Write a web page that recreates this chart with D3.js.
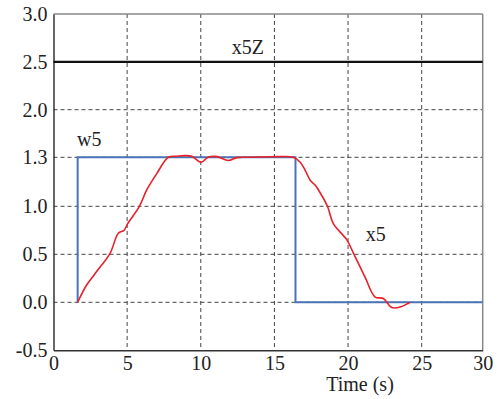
<!DOCTYPE html>
<html><head><meta charset="utf-8">
<script src="https://cdn.jsdelivr.net/npm/d3@7"></script>
</head><body style="margin:0"><svg id="c" width="497" height="399"></svg>
<script>
const xTicks = [0,5,10,15,20,25,30];
const yTicks = [-0.5,0.0,0.5,1.0,1.3,2.0,2.5,3.0];
const yTickLabels = ["-0.5","0.0","0.5","1.0","1.3","2.0","2.5","3.0"];
const x5Z = 2.5;
const w5T = [1.64, 1.64, 16.43, 16.43, 30];
const w5V = [0, 1.3, 1.3, 0, 0];
const x5T = [1.64,2.25,2.93,3.84,4.4,4.79,5.04,5.83,6.33,7.01,7.8,8.37,8.93,9.39,10.02,10.5,11.09,11.87,12.45,13.23,14.3,15.39,16.29,16.75,17.09,17.43,17.76,17.99,18.6,19.0,19.92,20.37,21.16,21.84,22.4,22.97,23.54,24.2];
const x5V = [0,0.18,0.32,0.51,0.72,0.75,0.82,1.0,1.10,1.20,1.30,1.315,1.325,1.315,1.27,1.30,1.31,1.28,1.298,1.30,1.305,1.31,1.30,1.27,1.22,1.16,1.13,1.10,1.0,0.82,0.65,0.51,0.26,0.055,0.04,-0.055,-0.05,0.0];

const svg = d3.select("#c");
const L=53.5, R=482.7, T=14, B=350.3;
const x = d3.scaleLinear().domain([0,25,30]).range([L,421.7,R]);
const y = d3.scaleLinear().domain([-0.5,1.0,1.3,2.0,3.0]).range([B,206.3,157.3,109.7,T]);

function txt(sel){ return sel.style("font-family","'Liberation Serif'").style("font-size","20px").style("fill","#222"); }

const g = svg.append("g");
g.selectAll(".vg").data(xTicks.filter(d=>d>0&&d<30)).enter().append("line")
 .attr("x1",d=>x(d)).attr("x2",d=>x(d)).attr("y1",T).attr("y2",B)
 .attr("stroke","#444").attr("stroke-width",1).attr("stroke-dasharray","4,3");
g.selectAll(".hg").data(yTicks.filter(d=>d>-0.5&&d<3&&d!==2.5)).enter().append("line")
 .attr("x1",L).attr("x2",R).attr("y1",d=>y(d)).attr("y2",d=>y(d))
 .attr("stroke","#444").attr("stroke-width",1).attr("stroke-dasharray","4,3");
g.append("line").attr("x1",L).attr("x2",R).attr("y1",T).attr("y2",T).attr("stroke","#888").attr("stroke-width",1.5);
g.append("line").attr("x1",R).attr("x2",R).attr("y1",T).attr("y2",B).attr("stroke","#888").attr("stroke-width",1.5);

const ya = svg.append("g").attr("transform",`translate(${L},0)`)
 .call(d3.axisLeft(y).tickValues(yTicks).tickSize(0).tickPadding(6).tickFormat((d,i)=>yTickLabels[i]));
const xa = svg.append("g").attr("transform",`translate(0,${B})`)
 .call(d3.axisBottom(x).tickValues(xTicks).tickSize(0).tickPadding(6).tickFormat(d3.format("d")));
[xa,ya].forEach(a=>{
 a.select(".domain").attr("stroke","#333").attr("stroke-width",1.5);
 txt(a.selectAll("text"));});

svg.append("line").attr("x1",L).attr("x2",R).attr("y1",y(x5Z)).attr("y2",y(x5Z)).attr("stroke","#111").attr("stroke-width",2.2);

svg.append("path").datum(w5T.map((t,i)=>[t,w5V[i]])).attr("d",d3.line().x(d=>x(d[0])).y(d=>y(d[1])))
 .attr("fill","none").attr("stroke","#4a74b8").attr("stroke-width",2);
svg.append("path").datum(x5T.map((t,i)=>[t,x5V[i]])).attr("d",d3.line().x(d=>x(d[0])).y(d=>y(d[1])).curve(d3.curveCatmullRom))
 .attr("fill","none").attr("stroke","#e8202a").attr("stroke-width",1.6);

txt(svg.append("text").attr("x",x(12.1)).attr("y",54)).text("x5Z");
txt(svg.append("text").attr("x",x(1.6)).attr("y",146)).text("w5");
txt(svg.append("text").attr("x",x(21.2)).attr("y",241)).text("x5");
txt(svg.append("text").attr("x",360).attr("y",391).attr("text-anchor","middle")).text("Time (s)");
</script></body></html>
